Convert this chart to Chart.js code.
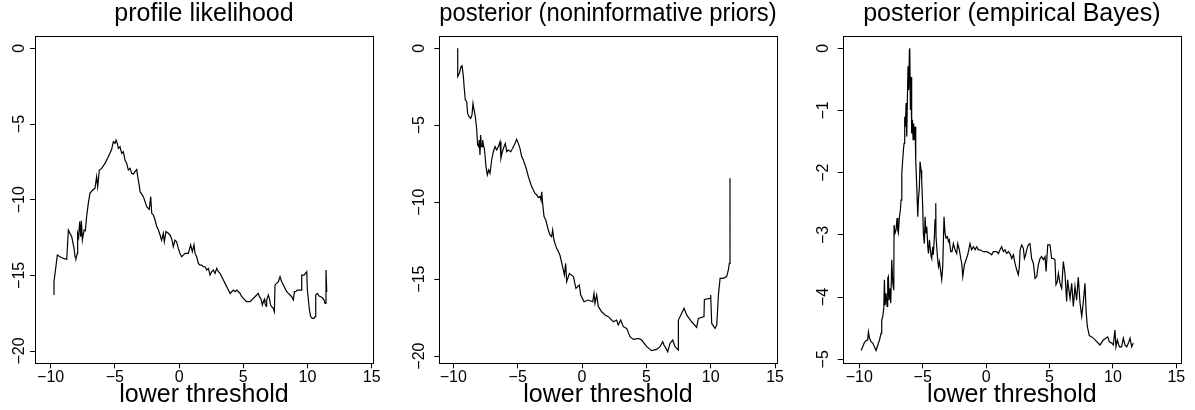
<!DOCTYPE html>
<html>
<head>
<meta charset="utf-8">
<script src="https://cdn.jsdelivr.net/npm/chart.js@4"></script>
<style>
  body { margin: 0; background: #fff; width: 1195px; height: 410px; position: relative; overflow: hidden; }
  canvas { position: absolute; top: 0; }
</style>
</head>
<body>
<canvas id="c1" width="400" height="410" style="left:0px"></canvas>
<canvas id="c2" width="395" height="410" style="left:400px"></canvas>
<canvas id="c3" width="400" height="410" style="left:795px"></canvas>
<script>
'use strict';

// ---- data ----
const xTicks = [-10, -5, 0, 5, 10, 15];
const yTicksWide = [-20, -15, -10, -5, 0];
const yTicksNarrow = [-5, -4, -3, -2, -1, 0];
const xLabel = 'lower threshold';

// panel 1: profile likelihood
const threshold1 = [-9.74,-9.74,-9.48,-9.27,-9.01,-8.75,-8.62,-8.36,-8.18,-8.10,
  -8.03,-7.92,-7.90,-7.82,-7.74,-7.66,-7.61,-7.53,-7.40,-7.30,
  -7.20,-7.07,-6.94,-6.73,-6.55,-6.42,-6.34,-6.21,-6.03,-5.77,
  -5.51,-5.25,-5.12,-4.99,-4.91,-4.81,-4.73,-4.60,-4.47,-4.34,
  -4.21,-4.08,-3.95,-3.82,-3.69,-3.56,-3.43,-3.30,-3.22,-3.09,
  -3.04,-2.78,-2.52,-2.32,-2.21,-2.13,-2.00,-1.87,-1.74,-1.61,
  -1.48,-1.36,-1.23,-1.15,-1.02,-0.84,-0.71,-0.58,-0.45,-0.32,
  -0.19,-0.06,0.07,0.20,0.33,0.46,0.72,0.90,1.03,1.16,
  1.24,1.37,1.50,1.63,1.76,1.89,2.02,2.15,2.28,2.41,
  2.54,2.67,2.80,2.93,3.06,3.19,3.32,3.45,3.58,3.71,
  3.84,3.97,4.10,4.23,4.36,4.49,4.62,4.75,4.88,5.01,
  5.13,5.26,5.39,5.52,5.65,5.78,5.91,6.04,6.17,6.25,
  6.36,6.43,6.48,6.56,6.64,6.69,6.77,6.82,6.95,7.03,
  7.13,7.21,7.34,7.42,7.47,7.60,7.73,7.86,7.99,8.12,
  8.25,8.38,8.51,8.64,8.77,8.90,8.98,9.08,9.21,9.37,
  9.50,9.55,9.73,9.94,9.99,10.07,10.15,10.25,10.38,10.51,
  10.59,10.64,10.77,10.90,11.03,11.16,11.29,11.37,11.44,11.50];
const profileLik = [-16.30,-15.42,-13.66,-13.77,-13.88,-13.94,-12.00,-12.44,-13.22,-13.77,
  -13.88,-13.55,-12.22,-12.49,-11.45,-12.44,-11.39,-12.67,-12.00,-12.05,
  -11.12,-10.24,-9.58,-9.36,-9.25,-8.48,-9.14,-8.04,-7.93,-7.60,
  -7.16,-6.67,-6.17,-6.28,-6.06,-6.28,-6.61,-6.50,-6.94,-6.83,
  -7.38,-7.60,-8.04,-7.93,-8.26,-8.30,-8.15,-8.00,-8.48,-9.14,
  -9.47,-9.80,-10.46,-10.64,-9.80,-10.90,-11.01,-11.34,-11.78,-12.00,
  -12.33,-12.67,-12.22,-12.78,-12.11,-12.22,-12.33,-12.56,-13.11,-12.67,
  -12.78,-13.22,-13.55,-13.77,-13.66,-13.55,-13.55,-12.99,-13.44,-12.99,
  -13.55,-13.77,-14.21,-14.32,-14.32,-14.43,-14.43,-14.65,-14.54,-14.98,
  -14.76,-14.65,-14.87,-14.54,-14.76,-14.87,-15.09,-15.31,-15.53,-15.75,
  -15.97,-16.19,-16.08,-15.97,-16.08,-15.97,-16.08,-16.19,-16.41,-16.52,
  -16.63,-16.74,-16.74,-16.74,-16.63,-16.52,-16.41,-16.30,-16.19,-16.41,
  -16.52,-16.74,-16.96,-16.74,-16.58,-16.85,-17.03,-16.63,-16.30,-16.52,
  -16.96,-17.07,-17.18,-17.40,-15.64,-15.53,-15.42,-15.09,-15.42,-15.64,
  -15.86,-16.08,-16.19,-16.30,-16.41,-16.63,-16.08,-16.08,-15.97,-15.97,
  -15.97,-14.98,-14.98,-14.76,-15.97,-16.63,-17.29,-17.73,-17.84,-17.84,
  -17.73,-16.30,-16.19,-16.37,-16.41,-16.48,-16.63,-16.85,-14.65,-16.10];

// panel 2: posterior, noninformative priors
const threshold2 = [-9.66,-9.66,-9.53,-9.40,-9.33,-9.22,-9.15,-9.07,-8.96,-8.89,
  -8.78,-8.65,-8.55,-8.47,-8.39,-8.29,-8.19,-8.11,-8.03,-7.98,
  -7.93,-7.88,-7.82,-7.77,-7.72,-7.64,-7.59,-7.54,-7.46,-7.36,
  -7.25,-7.15,-7.02,-6.89,-6.76,-6.63,-6.50,-6.37,-6.30,-6.19,
  -6.06,-5.96,-5.85,-5.73,-5.54,-5.39,-5.21,-5.08,-4.95,-4.82,
  -4.69,-4.56,-4.43,-4.30,-4.17,-4.04,-3.91,-3.78,-3.65,-3.52,
  -3.39,-3.26,-3.19,-3.13,-3.06,-2.95,-2.82,-2.75,-2.62,-2.49,
  -2.36,-2.28,-2.18,-2.10,-1.97,-1.84,-1.71,-1.45,-1.37,-1.27,
  -1.19,-0.98,-0.67,-0.47,-0.21,-0.10,0.16,0.49,0.83,0.93,
  1.01,1.14,1.27,1.53,1.79,2.05,2.18,2.44,2.69,2.82,
  3.01,3.21,3.47,3.73,3.99,4.38,4.64,5.03,5.41,5.80,
  6.06,6.27,6.37,6.53,6.66,6.84,7.05,7.23,7.49,7.49,
  7.93,8.13,8.52,8.91,9.04,9.48,9.51,9.95,10.00,10.08,
  10.34,10.47,10.60,10.73,10.98,11.24,11.37,11.45,11.50];
const postNoninf = [0,-1.84,-1.63,-1.19,-1.08,-1.84,-2.60,-3.36,-3.47,-4.23,
  -4.44,-4.55,-4.33,-3.58,-4.01,-4.44,-5.20,-6.28,-6.39,-5.96,
  -6.93,-5.63,-6.39,-6.39,-5.96,-6.39,-6.50,-6.50,-7.69,-8.23,
  -7.91,-8.13,-7.26,-6.72,-6.39,-6.61,-6.39,-6.07,-7.15,-6.72,
  -6.39,-6.18,-6.72,-6.61,-6.72,-6.50,-6.18,-5.92,-6.18,-6.50,
  -7.04,-7.26,-7.58,-7.91,-8.34,-8.67,-8.99,-9.21,-9.43,-9.53,
  -9.69,-9.64,-9.86,-9.32,-10.08,-10.94,-11.16,-11.38,-11.81,-12.13,
  -12.24,-11.81,-12.46,-12.68,-13.00,-13.20,-13.45,-14.41,-14.73,-13.98,
  -15.17,-14.63,-14.84,-15.60,-15.38,-16.03,-16.47,-16.36,-16.47,-15.93,
  -16.58,-16.03,-16.79,-17.12,-17.33,-17.44,-17.55,-17.77,-17.66,-17.98,
  -17.66,-18.09,-18.20,-18.74,-18.92,-18.85,-18.96,-19.39,-19.65,-19.57,
  -19.39,-19.07,-19.28,-19.50,-19.72,-19.18,-18.96,-19.39,-19.61,-17.66,
  -16.90,-17.33,-17.77,-18.14,-17.55,-17.44,-16.32,-16.25,-16.03,-17.88,
  -18.20,-17.98,-16.03,-14.95,-14.95,-14.84,-14.41,-13.98,-8.45];

// panel 3: posterior, empirical Bayes
const threshold3 = [-9.86,-9.73,-9.60,-9.47,-9.34,-9.28,-9.20,-9.07,-8.94,-8.81,
  -8.68,-8.54,-8.41,-8.28,-8.23,-8.15,-8.07,-8.02,-7.97,-7.89,
  -7.81,-7.76,-7.71,-7.65,-7.57,-7.52,-7.44,-7.36,-7.28,-7.26,
  -7.18,-7.10,-7.02,-6.97,-6.92,-6.84,-6.76,-6.71,-6.65,-6.58,
  -6.52,-6.47,-6.42,-6.37,-6.31,-6.26,-6.21,-6.16,-6.10,-6.05,
  -6.02,-5.97,-5.92,-5.87,-5.81,-5.76,-5.71,-5.66,-5.60,-5.55,
  -5.47,-5.39,-5.34,-5.26,-5.21,-5.13,-5.08,-5.00,-4.95,-4.87,
  -4.81,-4.74,-4.68,-4.60,-4.55,-4.47,-4.42,-4.34,-4.29,-4.21,
  -4.16,-4.08,-4.03,-3.97,-3.95,-3.84,-3.76,-3.68,-3.58,-3.50,
  -3.42,-3.32,-3.24,-3.16,-3.05,-2.97,-2.90,-2.79,-2.69,-2.58,
  -2.45,-2.32,-2.24,-2.11,-2.00,-1.92,-1.84,-1.79,-1.71,-1.58,
  -1.45,-1.27,-1.14,-1.00,-0.87,-0.74,-0.61,-0.48,-0.22,0.05,
  0.31,0.44,0.57,0.84,0.97,1.10,1.23,1.36,1.49,1.62,
  1.76,1.89,2.02,2.15,2.28,2.41,2.54,2.62,2.68,2.81,
  2.94,3.02,3.12,3.20,3.33,3.46,3.59,3.73,3.86,3.99,
  4.12,4.25,4.38,4.52,4.65,4.73,4.86,5.04,5.17,5.30,
  5.43,5.51,5.62,5.70,5.83,5.96,6.09,6.22,6.35,6.43,
  6.49,6.62,6.75,6.88,7.01,7.14,7.27,7.41,7.54,7.67,
  7.80,7.88,7.98,8.14,8.46,8.98,9.25,9.59,9.72,9.90,
  10.03,10.16,10.24,10.35,10.51,10.69,10.82,10.95,11.09,11.22,
  11.35,11.48,11.61];
const postEB = [-4.86,-4.80,-4.73,-4.70,-4.69,-4.56,-4.66,-4.72,-4.74,-4.80,
  -4.86,-4.77,-4.69,-4.58,-4.37,-4.31,-4.18,-3.72,-4.13,-3.94,
  -4.15,-3.70,-3.67,-4.05,-3.86,-4.10,-3.40,-3.78,-3.89,-2.84,
  -2.97,-2.92,-2.73,-2.92,-2.97,-2.71,-2.60,-2.44,-2.01,-1.80,
  -1.63,-1.53,-1.10,-1.26,-0.88,-1.42,-0.83,-0.29,-0.67,-0.03,
  0,-0.99,-0.46,-1.37,-1.15,-1.47,-1.21,-1.47,-1.26,-1.80,
  -2.22,-2.71,-2.44,-2.22,-1.82,-1.96,-2.12,-2.55,-2.97,-3.14,
  -2.71,-2.97,-2.87,-3.19,-3.30,-3.08,-3.19,-3.35,-3.38,-3.19,
  -3.32,-3.03,-2.76,-2.49,-3.03,-3.35,-3.51,-3.43,-3.59,-3.72,
  -3.51,-2.71,-2.97,-3.05,-3.03,-3.11,-3.08,-3.27,-3.27,-3.14,
  -3.24,-3.30,-3.14,-3.24,-3.38,-3.46,-3.67,-3.59,-3.48,-3.40,
  -3.32,-3.14,-3.24,-3.19,-3.24,-3.19,-3.24,-3.24,-3.27,-3.27,
  -3.30,-3.32,-3.27,-3.27,-3.30,-3.24,-3.19,-3.27,-3.24,-3.30,
  -3.27,-3.30,-3.38,-3.32,-3.46,-3.56,-3.64,-3.51,-3.24,-3.16,
  -3.22,-3.38,-3.32,-3.24,-3.16,-3.14,-3.38,-3.46,-3.70,-3.67,
  -3.48,-3.38,-3.35,-3.40,-3.35,-3.59,-3.16,-3.16,-3.38,-3.38,
  -3.40,-3.80,-3.75,-3.62,-3.78,-3.86,-3.43,-3.62,-4.07,-3.72,
  -3.83,-4.02,-3.78,-4.15,-3.83,-4.05,-3.68,-4.10,-4.31,-4.07,
  -3.78,-4.21,-4.47,-4.62,-4.66,-4.77,-4.69,-4.64,-4.72,-4.74,
  -4.77,-4.53,-4.80,-4.69,-4.80,-4.80,-4.66,-4.77,-4.80,-4.74,
  -4.66,-4.80,-4.74];

// ---- drawing ----
const FONT = '"Liberation Sans", Arial, Helvetica, sans-serif';

function fmt(v) {
  return v < 0 ? '\u2212' + Math.abs(v) : String(v);
}

const frame = {
  id: 'frame',
  afterDraw(chart) {
    const {ctx, chartArea: a} = chart;
    const l = Math.round(a.left) + 0.5, t = Math.round(a.top) + 0.5;
    const r = Math.round(a.right) + 0.5, b = Math.round(a.bottom) + 0.5;
    ctx.save();
    ctx.strokeStyle = '#000';
    ctx.lineWidth = 1;
    ctx.strokeRect(l, t, r - l, b - t);
    ctx.restore();
  }
};

function makePanel(canvasId, title, xs, ys, yTicks, p) {
  new Chart(document.getElementById(canvasId), {
    type: 'scatter',
    data: {
      datasets: [{
        data: xs.map((x, i) => ({x: x, y: ys[i]})),
        showLine: true,
        borderColor: '#000',
        borderWidth: 1.2,
        pointRadius: 0,
        pointHoverRadius: 0,
        tension: 0,
        fill: false
      }]
    },
    options: {
      responsive: false,
      animation: false,
      devicePixelRatio: 1,
      layout: { padding: { left: 0, top: 0, bottom: 0, right: p.padRight } },
      plugins: {
        legend: { display: false },
        tooltip: { enabled: false },
        title: {
          display: true,
          text: title,
          fullSize: false,
          color: '#000',
          font: { family: FONT, size: 25, weight: 'normal', lineHeight: 1 },
          padding: { top: 2.1, bottom: 8.4 }
        }
      },
      scales: {
        x: {
          type: 'linear',
          min: p.xMin,
          max: p.xMax,
          afterBuildTicks: s => { s.ticks = xTicks.map(v => ({value: v})); },
          afterFit: s => { s.height = 46.7; },
          grid: { drawOnChartArea: false, drawTicks: true, tickLength: 5, color: '#000', lineWidth: 1 },
          border: { display: false },
          ticks: {
            color: '#000',
            font: { family: FONT, size: 16, lineHeight: 1.2 },
            padding: 0,
            minRotation: 0,
            maxRotation: 0,
            autoSkip: false,
            callback: fmt
          },
          title: {
            display: true,
            text: xLabel,
            color: '#000',
            font: { family: FONT, size: 25, lineHeight: 1 },
            padding: { top: 0, bottom: 2.2 }
          }
        },
        y: {
          type: 'linear',
          min: p.yMin,
          max: p.yMax,
          afterBuildTicks: s => { s.ticks = yTicks.map(v => ({value: v})); },
          afterFit: s => { s.width = p.yAxisW; },
          grid: { drawOnChartArea: false, drawTicks: true, tickLength: 5, color: '#000', lineWidth: 1 },
          border: { display: false },
          ticks: {
            color: '#000',
            font: { family: FONT, size: 16, lineHeight: 1.2 },
            padding: p.yPad,
            minRotation: 90,
            maxRotation: 90,
            crossAlign: 'center',
            autoSkip: false,
            callback: fmt
          }
        }
      }
    },
    plugins: [frame]
  });
}

makePanel('c1', 'profile likelihood', threshold1, profileLik, yTicksWide,
  { xMin: -11.22, xMax: 15.1, yMin: -20.81, yMax: 0.85, yAxisW: 35, padRight: 27, yPad: -3 });
makePanel('c2', 'posterior (noninformative priors)', threshold2, postNoninf, yTicksWide,
  { xMin: -11.09, xMax: 15.13, yMin: -20.47, yMax: 0.83, yAxisW: 39.3, padRight: 18.3, yPad: 1.5 });
makePanel('c3', 'posterior (empirical Bayes)', threshold3, postEB, yTicksNarrow,
  { xMin: -11.31, xMax: 15.37, yMin: -5.065, yMax: 0.206, yAxisW: 47.7, padRight: 14, yPad: 4.6 });
</script>
</body>
</html>
